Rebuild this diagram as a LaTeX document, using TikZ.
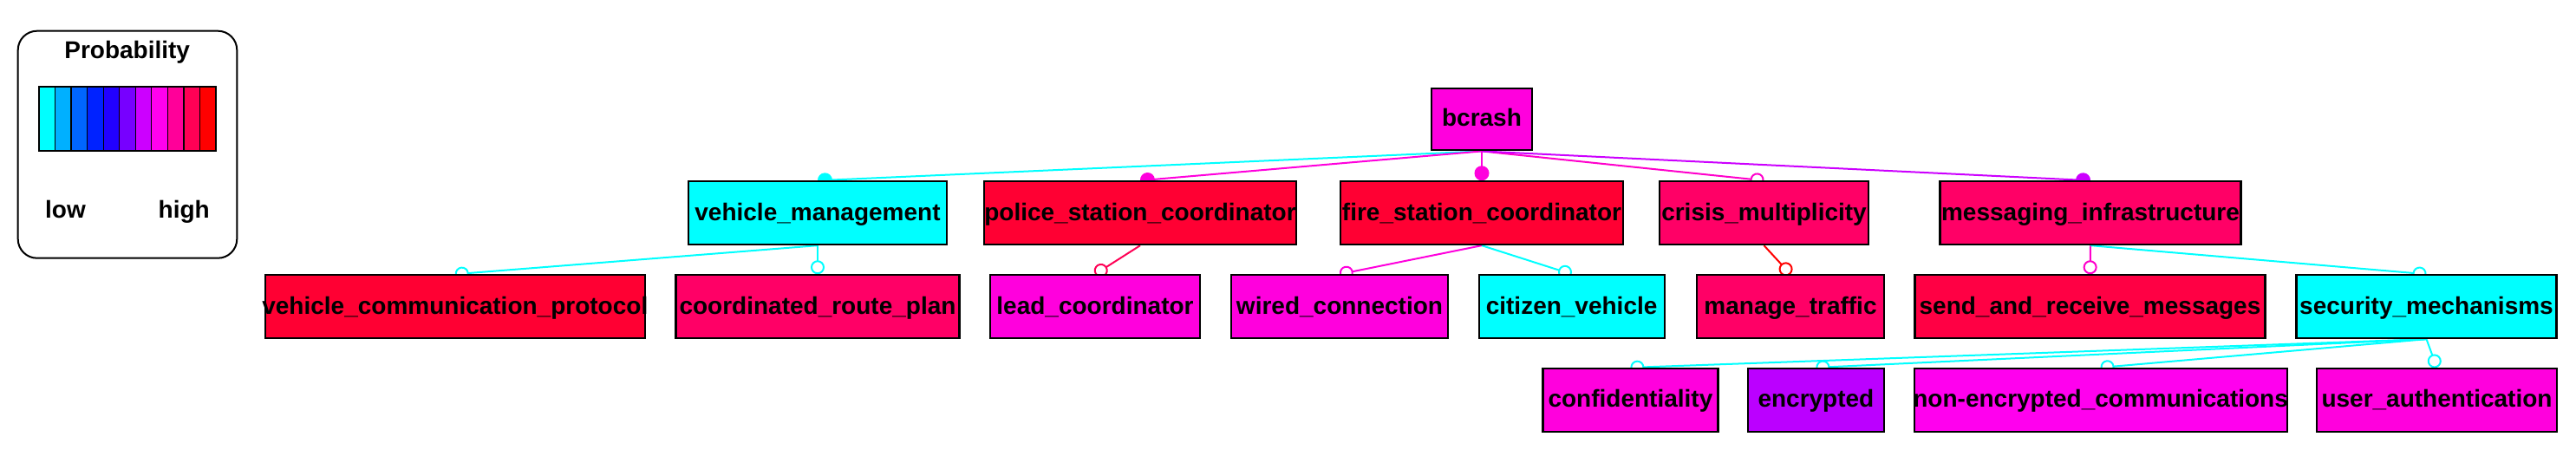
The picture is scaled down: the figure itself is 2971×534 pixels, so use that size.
\documentclass[tikz,border=0pt]{standalone}
\usepackage{fontspec}
\newfontfamily\arial{Liberation Sans}
\usetikzlibrary{arrows.meta,backgrounds}
\definecolor{cCyan}{HTML}{00FFFF}
\definecolor{cMag}{HTML}{FF00DD}
\definecolor{cNE}{HTML}{FF00EE}
\definecolor{cRedA}{HTML}{FF0033}
\definecolor{cRedB}{HTML}{FF0044}
\definecolor{cRose}{HTML}{FF0066}
\definecolor{cViolet}{HTML}{BB00FF}
\definecolor{ePink}{HTML}{FF00CC}
\definecolor{ePurple}{HTML}{CC00FF}
\definecolor{eCrimson}{HTML}{FF0055}
\definecolor{eRed}{HTML}{FF0000}
\definecolor{pA}{HTML}{00FFFF}
\definecolor{pB}{HTML}{00B0FF}
\definecolor{pC}{HTML}{0066FF}
\definecolor{pD}{HTML}{0022FF}
\definecolor{pE}{HTML}{2200FF}
\definecolor{pF}{HTML}{7700FF}
\definecolor{pG}{HTML}{CC00FF}
\definecolor{pH}{HTML}{FF00EE}
\definecolor{pI}{HTML}{FF0099}
\definecolor{pJ}{HTML}{FF0055}
\definecolor{pK}{HTML}{FF0000}
\newcommand\lb[1]{\makebox[0pt]{#1}}
\begin{document}
\begin{tikzpicture}[x=1pt,y=-1pt,
  fbox/.style={draw=black, line width=2.2pt, minimum height=72.7pt, inner sep=0pt,
    text height=17pt, text depth=0pt, font=\arial\bfseries\fontsize{28pt}{34pt}\selectfont},
  conn/.style={line width=2pt},
  odot/.style={conn, -{Circle[open,length=16pt,width=16pt]}},
  fdot/.style={conn, -{Circle[length=17pt,width=17pt]}},
  ltext/.style={font=\arial\bfseries\fontsize{28pt}{34pt}\selectfont, inner sep=0pt}
]
\useasboundingbox (0,0) rectangle (2971,534);

% legend
\draw[line width=2pt, rounded corners=22pt] (20.7,35.7) rectangle (273.3,297.7);
\node[ltext, anchor=base] (probtitle) at (146.7,68) {Probability};
\foreach \c [count=\i from 0] in {pA,pB,pC,pD,pE,pF,pG,pH,pI,pJ,pK}
  \filldraw[fill=\c, draw=black, line width=1.2pt] ({45+\i*18.545},100) rectangle ({45+(\i+1)*18.545},174);
\draw[line width=1.5pt] (45,100) rectangle (249,174);
\node[ltext, anchor=base west] (lowlbl) at (52,252) {low};
\node[ltext, anchor=base east] (highlbl) at (242,252) {high};

% row 0
\node[fbox, fill=cMag, minimum width=116pt, minimum height=71.6pt] (bcrash) at (1709,137.5) {\lb{bcrash}};
% row 1
\node[fbox, fill=cCyan, minimum width=298.5pt] (vm) at (943,245.7) {\lb{vehicle\_management}};
\node[fbox, fill=cRedA, minimum width=360pt] (police) at (1315,245.7) {\lb{police\_station\_coordinator}};
\node[fbox, fill=cRedA, minimum width=326pt] (fire) at (1709,245.7) {\lb{fire\_station\_coordinator}};
\node[fbox, fill=cRose, minimum width=241.7pt] (crisis) at (2034.5,245.7) {\lb{crisis\_multiplicity}};
\node[fbox, fill=cRose, minimum width=347pt] (msg) at (2411,245.7) {\lb{messaging\_infrastructure}};
% row 2
\node[fbox, fill=cRedA, minimum width=438pt] (vcp) at (524.8,353.7) {\lb{vehicle\_communication\_protocol}};
\node[fbox, fill=cRose, minimum width=327pt] (crp) at (943,353.7) {\lb{coordinated\_route\_plan}};
\node[fbox, fill=cMag, minimum width=242pt] (lead) at (1263,353.7) {\lb{lead\_coordinator}};
\node[fbox, fill=cMag, minimum width=250pt] (wired) at (1545,353.7) {\lb{wired\_connection}};
\node[fbox, fill=cCyan, minimum width=214pt] (citizen) at (1812.6,353.7) {\lb{citizen\_vehicle}};
\node[fbox, fill=cRose, minimum width=216.5pt] (manage) at (2065,353.7) {\lb{manage\_traffic}};
\node[fbox, fill=cRedB, minimum width=404pt] (send) at (2410.5,353.7) {\lb{send\_and\_receive\_messages}};
\node[fbox, fill=cCyan, minimum width=300pt] (sec) at (2798.5,353.7) {\lb{security\_mechanisms}};
% row 3
\node[fbox, fill=cMag, minimum width=202pt] (conf) at (1880.4,461.4) {\lb{confidentiality}};
\node[fbox, fill=cViolet, minimum width=156.5pt] (enc) at (2094.4,461.4) {\lb{encrypted}};
\node[fbox, fill=cNE, minimum width=430pt] (nonenc) at (2422.6,461.4) {\lb{non-encrypted\_communications}};
\node[fbox, fill=cMag, minimum width=277pt] (uauth) at (2810.5,461.4) {\lb{user\_authentication}};

\begin{scope}[on background layer]
\fill[white] (0,0) rectangle (2971,534);
\draw[fdot, cCyan] (bcrash.south) -- (vm.north);
\draw[fdot, cMag] (bcrash.south) -- (police.north);
\draw[fdot, cMag] (bcrash.south) -- (fire.north);
\draw[odot, ePink] (bcrash.south) -- (crisis.north);
\draw[fdot, ePurple] (bcrash.south) -- (msg.north);
\draw[odot, cCyan] (vm.south) -- (vcp.north);
\draw[odot, cCyan] (vm.south) -- (crp.north);
\draw[odot, eCrimson] (police.south) -- (lead.north);
\draw[odot, cMag] (fire.south) -- (wired.north);
\draw[odot, cCyan] (fire.south) -- (citizen.north);
\draw[odot, eRed] (crisis.south) -- (manage.north);
\draw[odot, ePink] (msg.south) -- (send.north);
\draw[odot, cCyan] (msg.south) -- (sec.north);
\draw[odot, cCyan] (sec.south) -- (conf.north);
\draw[odot, cCyan] (sec.south) -- (enc.north);
\draw[odot, cCyan] (sec.south) -- (nonenc.north);
\draw[odot, cCyan] (sec.south) -- (uauth.north);
\end{scope}
\end{tikzpicture}
\end{document}
